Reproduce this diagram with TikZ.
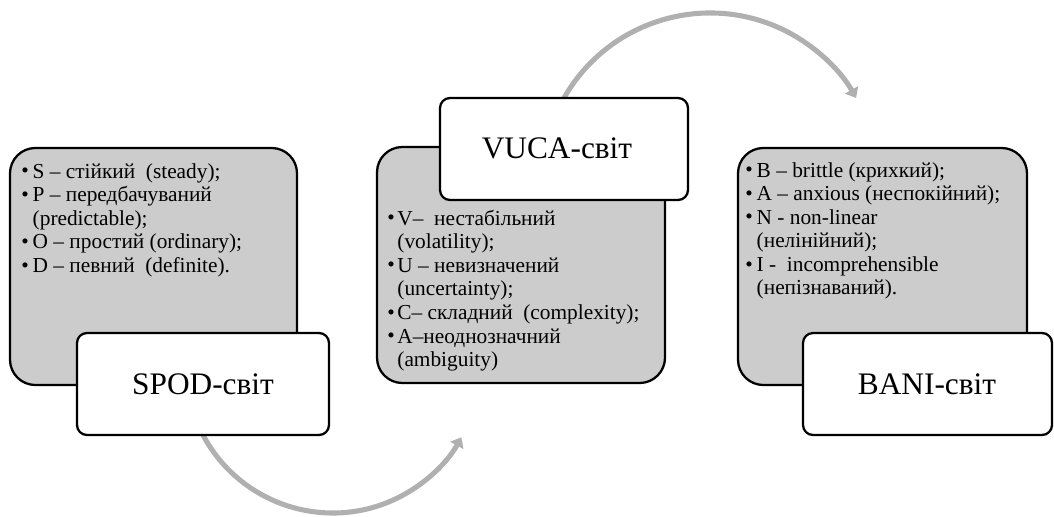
\documentclass[tikz,border=0pt]{standalone}
\usepackage{fontspec}
\setmainfont{Liberation Serif}
\usetikzlibrary{fit,arrows.meta}
\definecolor{boxgray}{HTML}{CCCCCC}
\definecolor{arrowgray}{HTML}{B0B0B0}
\newcommand\bul{\raisebox{0.3pt}{•}}
\begin{document}
\begin{tikzpicture}[x=0.75pt,y=0.75pt,
  graybox/.style={draw=black, line width=1.7pt, fill=boxgray, rounded corners=19pt, inner sep=0pt},
  whitebox/.style={draw=black, line width=1.7pt, fill=white, rounded corners=7.5pt, inner sep=0pt},
  title/.style={inner sep=0pt, font=\fontsize{23.5}{28}\selectfont},
  flow/.style={draw=arrowgray, line width=3.8pt, -{Triangle[length=7pt,width=11pt]}},
  listtext/.style={anchor=base west, inner sep=0pt, font=\fontsize{16}{17.7}\selectfont, align=left}]
\useasboundingbox (0,0) rectangle (1054,-517);

% boxes (gray first)
\node[graybox, fit={(10,-148) (297,-385)}] (spodg) {};
\node[graybox, fit={(377,-147) (665,-383)}] (vucag) {};
\node[graybox, fit={(738,-148) (1027,-385)}] (banig) {};

% arrows
\draw[flow] (203,-435) coordinate (a1s) arc[start angle=208, end angle=331, radius=147];
\draw[flow] (564,-98) coordinate (a2s) arc[start angle=150.4, end angle=29.6, radius=168];

% white title boxes
\node[whitebox, fit={(77,-333) (329,-435)}] (spodw) {};
\node[whitebox, fit={(440,-98) (688,-200)}] (vucaw) {};
\node[whitebox, fit={(803,-333) (1052,-435)}] (baniw) {};
\node[title] (spodl) at (203,-384) {SPOD-світ};
\node[title] (vucal) at (557,-148) {VUCA-світ};
\node[title] (banil) at (927,-384) {BANI-світ};

% lists
\node[listtext] (spodt) at (21,-178) {\begin{tabular}[t]{@{}l@{\hspace{3pt}}l@{}}
\bul & S – стійкий \ (steady);\\
\bul & P – передбачуваний\\
 & (predictable);\\
\bul & O – простий (ordinary);\\
\bul & D – певний \ (definite).
\end{tabular}};

\node[listtext] (vucat) at (387,-225) {\begin{tabular}[t]{@{}l@{\hspace{2pt}}l@{}}
\bul & V– \ нестабільний\\
 & (volatility);\\
\bul & U – невизначений\\
 & (uncertainty);\\
\bul & C– складний \ (complexity);\\
\bul & A–неоднозначний\\
 & (ambiguity)
\end{tabular}};

\node[listtext] (banit) at (745,-177) {\begin{tabular}[t]{@{}l@{\hspace{3pt}}l@{}}
\bul & B – brittle (крихкий);\\
\bul & A – anxious (неспокійний);\\
\bul & N - non-linear\\
 & (нелінійний);\\
\bul & I - \ incomprehensible\\
 & (непізнаваний).
\end{tabular}};
\end{tikzpicture}
\end{document}
